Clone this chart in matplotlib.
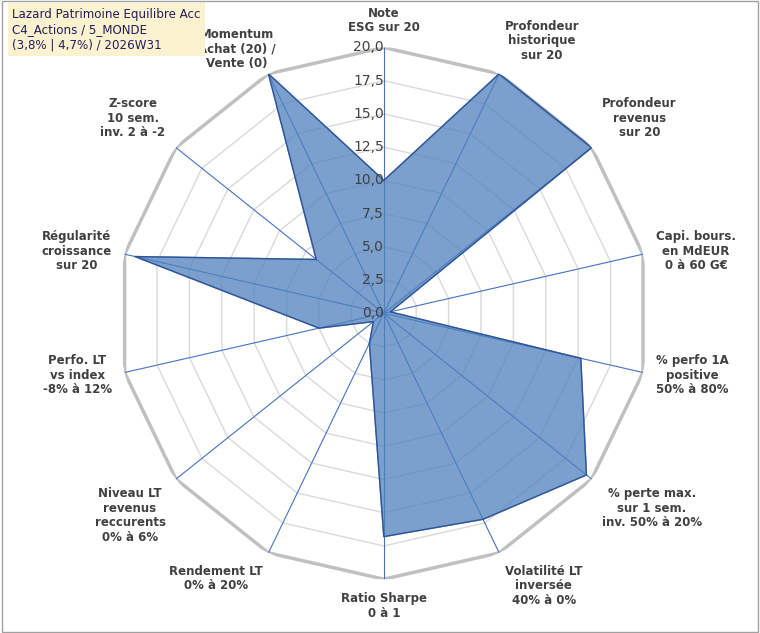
import numpy as np
import matplotlib
matplotlib.use("Agg")
import matplotlib.pyplot as plt

labels = ["Note\nESG sur 20", "Profondeur\nhistorique\nsur 20", "Profondeur\nrevenus\nsur 20",
          "Capi. bours.\nen MdEUR\n0 à 60 G€", "% perfo 1A\npositive\n50% à 80%",
          "% perte max.\nsur 1 sem.\ninv. 50% à 20%", "Volatilité LT\ninversée\n40% à 0%",
          "Ratio Sharpe\n0 à 1", "Rendement LT\n0% à 20%", "Niveau LT\nrevenus\nreccurents\n0% à 6%",
          "Perfo. LT\nvs index\n-8% à 12%", "Régularité\ncroissance\nsur 20",
          "Z-score\n10 sem.\ninv. 2 à -2", "Momentum\nAchat (20) /\nVente (0)"]
values = [10, 20, 20, 0.5, 15.2, 19.5, 17.2, 16.8, 2.5, 1.0, 5.0, 19.2, 6.5, 20]
ticks = [0, 2.5, 5, 7.5, 10, 12.5, 15, 17.5, 20]
title = "Lazard Patrimoine Equilibre Acc\nC4_Actions / 5_MONDE\n(3,8% | 4,7%) / 2026W31"

n = len(labels)
ang = np.linspace(0, 2*np.pi, n, endpoint=False)
fig = plt.figure(figsize=(7.6, 6.33), dpi=100)
fig.patch.set_facecolor("white")
ax = fig.add_axes([0.155, 0.085, 0.70, 0.84], projection="polar")
ax.set_theta_zero_location("N")
ax.set_theta_direction(-1)
ax.set_ylim(0, 20)
ax.axis("off")
ac = np.append(ang, ang[0])
for t in ticks[1:]:
    ax.plot(ac, [t]*(n+1), color="#c0c0c0" if t == 20 else "#d9d9d9",
            lw=2.5 if t == 20 else 1.0, zorder=1)
for a in ang:
    ax.plot([a, a], [0, 20], color="#4472c4", lw=0.8, zorder=2)
v = np.append(values, values[0])
ax.fill(ac, v, color="#4f81bd", alpha=0.75, zorder=3)
ax.plot(ac, v, color="#2f5597", lw=1, zorder=4)
for t in ticks:
    ax.text(0, t, f"{t:.1f}".replace(".", ","), ha="right", va="center",
            fontsize=10, color="#404040", zorder=5)
for i, (a, l) in enumerate(zip(ang, labels)):
    s, c = np.sin(a), np.cos(a)
    ha = "center" if abs(s) < 0.2 else ("left" if s > 0 else "right")
    va = "center" if abs(c) < 0.3 else ("bottom" if c > 0 else "top")
    r = 21.0
    if i == n - 1:
        ha, va, r = "right", "center", 21.5
        a = a + 0.06
    ax.text(a, r, l, ha=ha, va=va, fontsize=8.5, fontweight="bold",
            color="#404040", multialignment="center", linespacing=1.15, zorder=6)
fig.text(0.016, 0.988, title, ha="left", va="top", fontsize=8.6, color="#1f1f5f",
         linespacing=1.25, bbox=dict(facecolor="#fdf2cf", edgecolor="none", pad=3))
fig.patches.append(plt.Rectangle((0.002, 0.002), 0.996, 0.996, transform=fig.transFigure,
                                 fill=False, edgecolor="#a0a0a0", lw=1))
fig.savefig("out.png", dpi=100)
